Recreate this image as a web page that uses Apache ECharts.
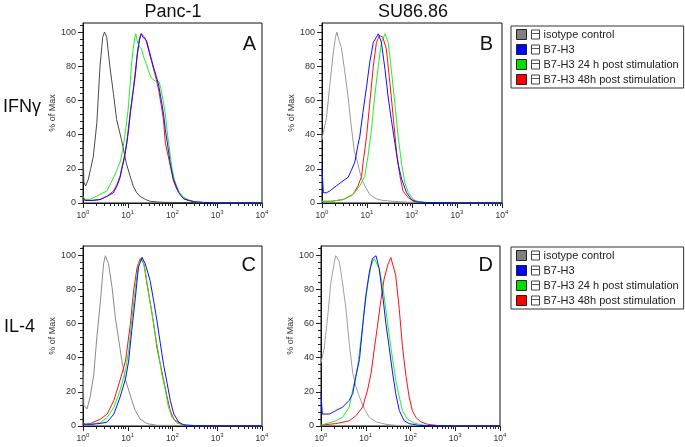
<!DOCTYPE html>
<html>
<head>
<meta charset="utf-8">
<script src="https://cdn.jsdelivr.net/npm/echarts@6/dist/echarts.min.js"></script>
<style>
html,body{margin:0;padding:0;background:#fff;}
#chart{width:685px;height:447px;}
</style>
</head>
<body>
<div id="chart"></div>
<script>
// ---- Labels ----
const columnTitles = ['Panc-1', 'SU86.86'];
const rowTitles = ['IFNγ', 'IL-4'];
const panelLetters = ['A', 'B', 'C', 'D'];
const seriesNames = ['isotype control', 'B7-H3', 'B7-H3 24 h post stimulation', 'B7-H3 48h post stimulation'];
const yTicks = [0, 20, 40, 60, 80, 100];
const xTickExponents = [0, 1, 2, 3, 4];
const yAxisName = '% of Max';

// ---- Data: [log10 fluorescence, % of Max] ----
// Panel A (Panc-1, IFNγ)
const A_iso = [[0,35],[0.02,12],[0.06,10],[0.12,14],[0.17,20],[0.23,27],[0.31,47],[0.38,80],[0.44,97],[0.48,100],[0.53,97],[0.6,80],[0.68,64],[0.75,49],[0.86,37],[0.97,23],[1.05,16],[1.12,10],[1.2,6],[1.27,4],[1.4,2],[1.5,1],[1.7,0.5],[2,0.3],[3,0.3],[4,0.3]];
const A_blue = [[0,3],[0.05,1.5],[0.2,1.5],[0.38,2],[0.54,4],[0.68,6],[0.76,10],[0.83,15],[0.87,20],[0.93,27],[0.98,35],[1.02,43],[1.06,53],[1.12,65],[1.17,75],[1.21,86],[1.26,95],[1.3,99],[1.34,97],[1.38,98],[1.42,95],[1.48,89],[1.53,84],[1.58,79],[1.64,74],[1.69,69],[1.75,60],[1.8,52],[1.84,43],[1.88,36],[1.95,23],[2.02,14],[2.08,10],[2.14,6],[2.25,2.5],[2.36,1.5],[2.5,0.7],[2.7,0.3],[3,0.2],[4,0.2]];
const A_green = [[0,4],[0.05,2],[0.15,2],[0.23,3],[0.38,5],[0.53,7],[0.63,12],[0.72,17],[0.78,21],[0.83,24],[0.88,30],[0.94,40],[1.01,55],[1.05,68],[1.08,80],[1.12,90],[1.16,97],[1.18,99],[1.21,95],[1.25,92],[1.31,90],[1.36,85],[1.42,81],[1.48,76],[1.53,73],[1.58,72],[1.64,71],[1.7,71],[1.74,67],[1.79,60],[1.84,52],[1.88,42],[1.91,36],[1.95,28],[1.99,20],[2.04,14],[2.09,10],[2.16,6],[2.24,3.5],[2.35,2],[2.45,1],[2.6,0.4],[3,0.2],[4,0.2]];
const A_red = [[0,2],[0.05,1.5],[0.2,1.5],[0.38,2],[0.54,4],[0.68,7],[0.76,11],[0.83,16],[0.87,21],[0.93,28],[0.98,36],[1.02,45],[1.06,54],[1.12,66],[1.17,77],[1.21,87],[1.26,96],[1.3,99],[1.34,98],[1.38,97],[1.42,94],[1.48,88],[1.53,83],[1.58,78],[1.64,72],[1.69,66],[1.75,57],[1.8,48],[1.84,35],[1.88,34],[1.95,22],[2.02,13],[2.08,9],[2.14,6],[2.25,2.5],[2.36,1.5],[2.5,0.7],[2.7,0.3],[3,0.2],[4,0.2]];
// Panel B (SU86.86, IFNγ)
const B_iso = [[0,37],[0.02,40],[0.1,50],[0.17,68],[0.25,88],[0.3,97],[0.33,100],[0.38,95],[0.43,91],[0.5,78],[0.58,62],[0.65,45],[0.72,30],[0.78,25],[0.84,18],[0.9,13],[0.95,10],[1.06,5],[1.2,2.5],[1.35,1.5],[1.58,1],[1.9,0.5],[2.3,0.3],[3,0.2],[4,0.2]];
const B_blue = [[0,20],[0.03,6],[0.1,6],[0.17,7],[0.32,10],[0.47,13],[0.58,15],[0.65,19],[0.73,24],[0.8,34],[0.84,39],[0.91,53],[0.99,68],[1.06,82],[1.14,94],[1.21,97],[1.25,99],[1.32,94],[1.4,78],[1.47,62],[1.54,49],[1.62,35],[1.69,23],[1.77,14],[1.88,6],[1.99,2],[2.1,0.7],[2.3,0.3],[3,0.2],[4,0.2]];
const B_green = [[0,1],[0.2,1],[0.47,2],[0.69,5],[0.84,10],[0.95,15.6],[1.02,27],[1.1,43],[1.17,62],[1.25,80],[1.32,94],[1.4,99],[1.47,94],[1.54,78],[1.62,58],[1.69,39],[1.77,23],[1.84,12],[1.92,6],[2.03,2],[2.18,0.5],[2.4,0.3],[3,0.2],[4,0.2]];
const B_red = [[0,1],[0.2,1],[0.47,2],[0.69,5],[0.8,10],[0.88,15.6],[0.91,23],[0.99,39],[1.06,58],[1.14,80],[1.21,94],[1.28,98],[1.35,97],[1.43,90],[1.51,70],[1.58,51],[1.66,29],[1.73,16],[1.8,7],[1.92,3],[2.03,1],[2.3,0.3],[3,0.2],[4,0.2]];
// Panel C (Panc-1, IL-4)
const C_iso = [[0,35],[0.02,12],[0.09,10],[0.16,17],[0.24,30],[0.31,52],[0.39,73],[0.46,95],[0.5,99.6],[0.57,95],[0.65,81],[0.72,64],[0.8,50],[0.87,38],[0.95,27],[1.02,21],[1.09,15],[1.17,9],[1.28,4],[1.43,1.4],[1.65,0.4],[2.2,0.3],[3,0.2],[4,0.2]];
const C_blue = [[0,1],[0.2,1],[0.39,1.5],[0.54,2.3],[0.69,7],[0.83,17],[0.95,27.6],[1.02,38],[1.09,56],[1.17,75],[1.24,93],[1.32,98.6],[1.39,95],[1.5,85],[1.58,73],[1.65,62],[1.73,48],[1.8,36],[1.88,25],[1.95,15],[2.03,7],[2.14,2.3],[2.25,0.6],[2.5,0.2],[3,0.2],[4,0.2]];
const C_green = [[0,1],[0.2,1],[0.39,2],[0.54,5],[0.69,11],[0.83,21],[0.95,32.5],[1.02,44],[1.09,62],[1.17,81],[1.24,95],[1.32,98.6],[1.39,91],[1.47,77],[1.54,66],[1.61,54],[1.69,42],[1.76,30.5],[1.84,21],[1.91,11],[1.99,5],[2.1,1.7],[2.3,0.4],[3,0.2],[4,0.2]];
const C_red = [[0,2],[0.05,1],[0.16,1.4],[0.39,4],[0.54,7],[0.69,15],[0.83,27],[0.95,38],[0.98,37],[1.06,60],[1.13,79],[1.21,93],[1.28,98],[1.36,95],[1.43,83],[1.51,71],[1.58,60],[1.65,46],[1.73,36],[1.8,27],[1.88,17],[1.95,9],[2.03,4],[2.17,1.4],[2.32,0.4],[2.6,0.2],[3,0.2],[4,0.2]];
// Panel D (SU86.86, IL-4)
const D_iso = [[0,37],[0.07,45],[0.15,64],[0.22,84],[0.3,96],[0.33,99.6],[0.41,96],[0.48,84],[0.56,68],[0.63,48.5],[0.71,31],[0.78,23],[0.86,17],[0.97,10],[1.08,5],[1.23,2.4],[1.45,1],[1.67,0.4],[2.2,0.3],[3,0.2],[4,0.2]];
const D_blue = [[0,19],[0.03,7],[0.19,7],[0.33,9],[0.48,11],[0.63,15],[0.71,19],[0.78,29],[0.86,39],[0.93,58],[1.0,76],[1.08,90],[1.15,98],[1.23,99.6],[1.3,92],[1.38,76],[1.45,60],[1.52,46.6],[1.6,31],[1.67,19],[1.75,9],[1.86,3],[1.97,1.4],[2.2,0.3],[3,0.2],[4,0.2]];
const D_green = [[0,0.5],[0.33,3],[0.48,5],[0.63,11],[0.74,25],[0.82,35],[0.89,50],[0.97,68],[1.04,82],[1.12,94],[1.19,98],[1.23,98.6],[1.3,92],[1.38,82],[1.45,68],[1.52,54],[1.6,39],[1.67,27],[1.75,17],[1.82,9],[1.93,4],[2.08,1.7],[2.3,0.4],[3,0.2],[4,0.2]];
const D_red = [[0,0.5],[0.33,1.4],[0.63,3],[0.78,6],[0.93,11],[1.04,21],[1.12,31],[1.19,45],[1.26,58],[1.34,74],[1.41,86],[1.49,94],[1.56,98.6],[1.6,99.6],[1.67,88],[1.75,68],[1.82,46.6],[1.9,29],[1.97,17],[2.04,9],[2.12,5],[2.23,2.4],[2.38,1],[2.6,0.3],[3,0.2],[4,0.2]];

// ---- Build chart ----
const FONT = 'Liberation Sans, Arial, sans-serif';
const TICK = '#222';
const panels = [
  {iso: A_iso, blue: A_blue, green: A_green, red: A_red, box: {left: 83, top: 23, width: 179, height: 180}, isoColor: '#4a4a4a'},
  {iso: B_iso, blue: B_blue, green: B_green, red: B_red, box: {left: 322, top: 23, width: 180, height: 180}, isoColor: '#9a9a9a'},
  {iso: C_iso, blue: C_blue, green: C_green, red: C_red, box: {left: 83, top: 246, width: 179, height: 180}, isoColor: '#8a8a8a'},
  {iso: D_iso, blue: D_blue, green: D_green, red: D_red, box: {left: 321, top: 246, width: 179, height: 180}, isoColor: '#a0a0a0'}
];
const colors = {blue: '#1010ff', green: '#22ee22', red: '#ff1010'};
const legendColors = ['#808080', '#0000ff', '#00e000', '#ff0000'];

const xMinor = [];
for (let d = 0; d < 4; d++) for (let k = 2; k < 10; k++) xMinor.push(d + Math.log10(k));
const yMinor = [];
for (let v = 4; v < 105; v += 4) if (v % 20) yMinor.push(v);
const YMAX = 105.3;

const grid = [], xAxis = [], yAxis = [], series = [];
panels.forEach((p, i) => {
  grid.push(Object.assign({show: true, borderColor: '#111', borderWidth: 1, backgroundColor: 'transparent', containLabel: false}, p.box));
  xAxis.push({
    type: 'value', gridIndex: i, min: 0, max: 4, interval: 1, position: 'bottom',
    axisLine: {show: true, onZero: false, lineStyle: {color: '#111', width: 1}},
    axisTick: {show: true, length: 5, lineStyle: {color: TICK, width: 1}},
    splitLine: {show: false},
    axisLabel: {
      margin: 6, color: '#333', fontFamily: FONT,
      formatter: v => '{b|10}{s|' + v + '}',
      rich: {b: {fontSize: 8.5, fontFamily: FONT, color: '#333', verticalAlign: 'bottom', lineHeight: 11},
             s: {fontSize: 6, fontFamily: FONT, color: '#333', verticalAlign: 'top', lineHeight: 11}}
    }
  });
  xAxis.push({
    type: 'value', gridIndex: i, min: 0, max: 4, position: 'bottom',
    axisLine: {show: false, onZero: false},
    axisTick: {show: true, length: 3, customValues: xMinor, lineStyle: {color: TICK, width: 1}},
    axisLabel: {show: false}, splitLine: {show: false}
  });
  yAxis.push({
    type: 'value', gridIndex: i, min: 0, max: YMAX, position: 'left',
    name: yAxisName, nameLocation: 'middle', nameGap: 23, nameRotate: 90,
    nameTextStyle: {fontSize: 9, fontFamily: FONT, color: '#333'},
    axisLine: {show: true, onZero: false, lineStyle: {color: '#111', width: 1}},
    axisTick: {show: true, length: 5, customValues: yTicks, lineStyle: {color: TICK, width: 1}},
    axisLabel: {show: true, margin: 7, customValues: yTicks, fontSize: 9, fontFamily: FONT, color: '#333'},
    splitLine: {show: false}
  });
  yAxis.push({
    type: 'value', gridIndex: i, min: 0, max: YMAX, position: 'left',
    axisLine: {show: false, onZero: false},
    axisTick: {show: true, length: 3, customValues: yMinor, lineStyle: {color: TICK, width: 1}},
    axisLabel: {show: false}, splitLine: {show: false}
  });
  const mk = (name, data, color) => ({
    type: 'line', name: name, data: data, xAxisIndex: i * 2, yAxisIndex: i * 2,
    showSymbol: false, symbol: 'none', smooth: false, animation: false,
    lineStyle: {color: color, width: 1}, itemStyle: {color: color}, z: 3
  });
  series.push(mk(seriesNames[0], p.iso, p.isoColor));
  series.push(mk(seriesNames[3], p.red, colors.red));
  series.push(mk(seriesNames[2], p.green, colors.green));
  series.push(mk(seriesNames[1], p.blue, colors.blue));
});

const legendData = seriesNames.map((n, k) => ({name: n, itemStyle: {color: legendColors[k], borderColor: '#222', borderWidth: 1}}));
const mkLegend = top => ({
  show: true, orient: 'vertical', left: 511, top: top, align: 'left',
  data: legendData, icon: 'rect', itemWidth: 10, itemHeight: 10, itemGap: 4,
  padding: [3, 5, 3, 5], borderColor: '#333', borderWidth: 1, borderRadius: 0,
  selectedMode: false,
  formatter: name => '{i|─}{t|' + name + '}',
  textStyle: {
    rich: {
      i: {fontFamily: 'DejaVu Sans Mono', fontSize: 11, color: '#444', width: 8, height: 9, lineHeight: 9,
          align: 'center', verticalAlign: 'middle', borderColor: '#444', borderWidth: 1},
      t: {fontFamily: FONT, fontSize: 11, color: '#222', lineHeight: 12, padding: [0, 0, 0, 4]}
    }
  }
});

const txt = (text, x, y, size, align) => ({
  type: 'text', x: x, y: y, silent: true,
  style: {text: text, x: 0, y: 0, fontFamily: FONT, fontSize: size, fill: '#111', textAlign: align, textVerticalAlign: 'middle'}
});
const graphic = [
  txt(columnTitles[0], 173, 12, 18, 'center'),
  txt(columnTitles[1], 413, 12, 18, 'center'),
  txt(rowTitles[0], 3, 107, 18, 'left'),
  txt(rowTitles[1], 4, 327, 18, 'left'),
  txt(panelLetters[0], 256, 44, 20, 'right'),
  txt(panelLetters[1], 493, 44, 20, 'right'),
  txt(panelLetters[2], 256, 265, 20, 'right'),
  txt(panelLetters[3], 493, 265, 20, 'right')
];

const chart = echarts.init(document.getElementById('chart'), null, {renderer: 'canvas'});
chart.setOption({
  animation: false,
  backgroundColor: '#fff',
  grid: grid, xAxis: xAxis, yAxis: yAxis, series: series,
  legend: [mkLegend(26), mkLegend(247)],
  graphic: graphic,
  tooltip: {show: false}
});
</script>
</body>
</html>
